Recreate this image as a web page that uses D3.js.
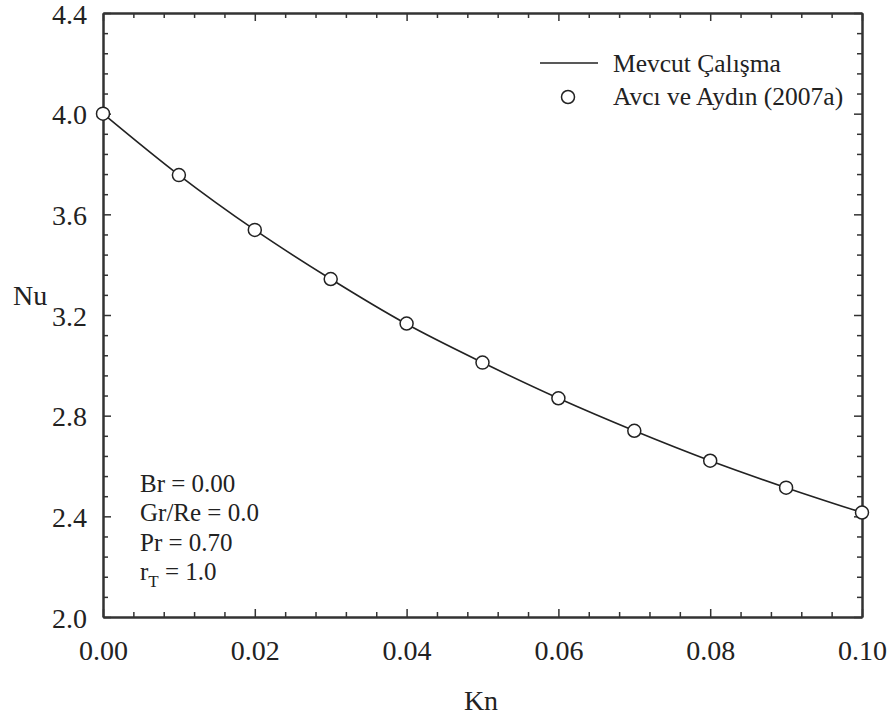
<!DOCTYPE html>
<html>
<head>
<meta charset="utf-8">
<script src="https://cdn.jsdelivr.net/npm/d3@7"></script>
<style>
  html, body { margin: 0; padding: 0; background: #fff; }
  svg { display: block; }
  text { font-family: "Liberation Serif", "Times New Roman", serif; fill: #222; }
</style>
</head>
<body>
<svg id="chart" width="890" height="722"></svg>
<script>
// ---- data ----
const knValues = [0.00, 0.01, 0.02, 0.03, 0.04, 0.05, 0.06, 0.07, 0.08, 0.09, 0.10];
const nuCurrent = [4.000, 3.756, 3.538, 3.343, 3.164, 3.011, 2.869, 2.740, 2.621, 2.514, 2.415];
const nuAvci = [4.000, 3.756, 3.538, 3.343, 3.166, 3.011, 2.869, 2.740, 2.621, 2.514, 2.415];
const xTickLabels = ["0.00", "0.02", "0.04", "0.06", "0.08", "0.10"];
const yTickLabels = ["2.0", "2.4", "2.8", "3.2", "3.6", "4.0", "4.4"];
const legendLabels = ["Mevcut Çalışma", "Avcı ve Aydın (2007a)"];
const paramLabels = ["Br = 0.00", "Gr/Re = 0.0", "Pr = 0.70"];

// ---- layout ----
const L = 103, R = 862, T = 13, B = 617;
const FONT = "'Liberation Serif', 'Times New Roman', serif";
const svg = d3.select("#chart");
const x = d3.scaleLinear().domain([0, 0.1]).range([L, R]);
const y = d3.scaleLinear().domain([2.0, 4.4]).range([B, T]);

const xMajor = xTickLabels.map(Number);
const yMajor = yTickLabels.map(Number);
const xMinor = d3.range(0, 26).map(i => i * 0.004).filter(v => !xMajor.some(m => Math.abs(m - v) < 1e-9));
const yMinor = d3.range(0, 31).map(i => 2.0 + i * 0.08).filter(v => !yMajor.some(m => Math.abs(m - v) < 1e-9));

const axisColor = "#333";
function styleAxis(g, showLabels) {
  g.attr("font-family", FONT);
  g.selectAll(".domain").attr("stroke", axisColor).attr("stroke-width", 2);
  g.selectAll(".tick line").attr("stroke", axisColor).attr("stroke-width", 1.5);
  if (!showLabels) g.selectAll(".tick text").remove();
  else g.selectAll(".tick text").style("font-size", "28px").style("font-family", FONT).attr("fill", "#222");
}

// minor ticks
svg.append("g").attr("transform", `translate(0,${B})`)
  .call(d3.axisBottom(x).tickValues(xMinor).tickSize(-5).tickSizeOuter(0).tickFormat(""))
  .call(g => styleAxis(g, false));
svg.append("g").attr("transform", `translate(0,${T})`)
  .call(d3.axisTop(x).tickValues(xMinor).tickSize(-5).tickSizeOuter(0).tickFormat(""))
  .call(g => styleAxis(g, false));
svg.append("g").attr("transform", `translate(${L},0)`)
  .call(d3.axisLeft(y).tickValues(yMinor).tickSize(-5).tickSizeOuter(0).tickFormat(""))
  .call(g => styleAxis(g, false));
svg.append("g").attr("transform", `translate(${R},0)`)
  .call(d3.axisRight(y).tickValues(yMinor).tickSize(-5).tickSizeOuter(0).tickFormat(""))
  .call(g => styleAxis(g, false));

// major ticks
svg.append("g").attr("transform", `translate(0,${B})`)
  .call(d3.axisBottom(x).tickValues(xMajor).tickSize(-8).tickSizeOuter(0).tickPadding(23)
    .tickFormat((d, i) => xTickLabels[i]))
  .call(g => styleAxis(g, true));
svg.append("g").attr("transform", `translate(0,${T})`)
  .call(d3.axisTop(x).tickValues(xMajor).tickSize(-8).tickSizeOuter(0).tickFormat(""))
  .call(g => styleAxis(g, false));
svg.append("g").attr("transform", `translate(${L},0)`)
  .call(d3.axisLeft(y).tickValues(yMajor).tickSize(-8).tickSizeOuter(0).tickPadding(16)
    .tickFormat((d, i) => yTickLabels[i]))
  .call(g => styleAxis(g, true))
  .call(g => g.selectAll(".tick text").attr("dy", "0.36em"));
svg.append("g").attr("transform", `translate(${R},0)`)
  .call(d3.axisRight(y).tickValues(yMajor).tickSize(-8).tickSizeOuter(0).tickFormat(""))
  .call(g => styleAxis(g, false));

// axis titles
svg.append("text").attr("x", 481).attr("y", 710).attr("text-anchor", "middle")
  .style("font-size", "28px").text("Kn");
svg.append("text").attr("x", 13).attr("y", 305)
  .style("font-size", "28px").text("Nu");

// curve
const line = d3.line().x((d, i) => x(knValues[i])).y(d => y(d)).curve(d3.curveMonotoneX);
svg.append("path").datum(nuCurrent).attr("d", line)
  .attr("fill", "none").attr("stroke", "#222").attr("stroke-width", 1.6);

// points
svg.append("g").selectAll("circle").data(nuAvci).join("circle")
  .attr("cx", (d, i) => x(knValues[i])).attr("cy", d => y(d)).attr("r", 6.5)
  .attr("fill", "#fff").attr("stroke", "#222").attr("stroke-width", 1.5);

// legend
svg.append("line").attr("x1", 540).attr("x2", 598).attr("y1", 63).attr("y2", 63)
  .attr("stroke", "#222").attr("stroke-width", 1.6);
svg.append("text").attr("x", 613).attr("y", 72).style("font-size", "25.5px").text(legendLabels[0]);
svg.append("circle").attr("cx", 568).attr("cy", 97).attr("r", 6.5)
  .attr("fill", "#fff").attr("stroke", "#222").attr("stroke-width", 1.5);
svg.append("text").attr("x", 613).attr("y", 105).style("font-size", "25.5px").text(legendLabels[1]);

// parameters
paramLabels.forEach((t, i) => {
  svg.append("text").attr("x", 140).attr("y", 492 + i * 29.3).style("font-size", "25px").text(t);
});
const rt = svg.append("text").attr("x", 140).attr("y", 580).style("font-size", "25px");
rt.append("tspan").text("r");
rt.append("tspan").attr("dy", 7).style("font-size", "17px").text("T");
rt.append("tspan").attr("dy", -7).text(" = 1.0");
</script>
</body>
</html>
